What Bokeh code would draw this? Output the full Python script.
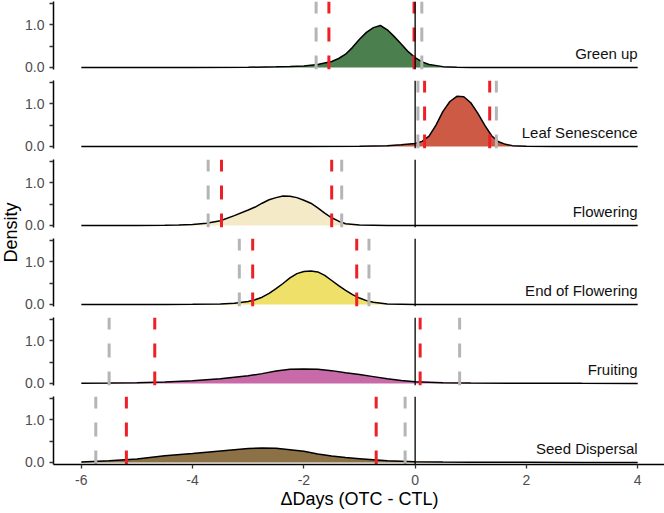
import math
from bokeh.plotting import figure
from bokeh.models import Range1d, FixedTicker, PrintfTickFormatter, Label
from bokeh.layouts import column, row
from bokeh.embed import file_html
from bokeh.resources import INLINE
from bokeh.core.properties import value

# ---------------- data ----------------
panel_names = ["Green up", "Leaf Senescence", "Flowering", "End of Flowering", "Fruiting", "Seed Dispersal"]
panel_colors = ["#4b7f4e", "#cd5a45", "#f4eac8", "#efe06a", "#c86aa8", "#8c7046"]

green_x = [-6, -4, -3, -2.5, -2.25, -2, -1.75, -1.5, -1.375, -1.25, -1.125, -1, -0.875, -0.75, -0.625,
           -0.5, -0.375, -0.25, -0.125, 0, 0.125, 0.25, 0.5, 0.75, 1, 1.5, 2, 4]
green_y = [0.0, 0.002, 0.006, 0.015, 0.022, 0.035, 0.07, 0.14, 0.21, 0.31, 0.47, 0.66, 0.82, 0.93, 0.98,
           0.88, 0.72, 0.55, 0.37, 0.23, 0.13, 0.07, 0.02, 0.006, 0.002, 0.0, 0.0, 0.0]

leaf_x = [-6, -2, -1, -0.5, -0.25, 0, 0.125, 0.25, 0.375, 0.5, 0.625, 0.75, 0.875, 1.0, 1.125, 1.25,
          1.375, 1.5, 1.625, 1.75, 2, 2.5, 4]
leaf_y = [0.0, 0.001, 0.006, 0.02, 0.04, 0.07, 0.12, 0.24, 0.5, 0.82, 1.05, 1.17, 1.16, 1.02, 0.78, 0.5,
          0.25, 0.11, 0.05, 0.02, 0.006, 0.001, 0.0]

flower_x = [-6, -5, -4.5, -4.25, -4, -3.75, -3.5, -3.25, -3, -2.875, -2.75, -2.625, -2.5, -2.375, -2.25,
            -2.125, -2, -1.875, -1.75, -1.625, -1.5, -1.375, -1.25, -1, -0.5, 0, 4]
flower_y = [0.0, 0.002, 0.006, 0.012, 0.025, 0.05, 0.11, 0.23, 0.36, 0.43, 0.52, 0.60, 0.65, 0.69, 0.68,
            0.65, 0.59, 0.52, 0.41, 0.29, 0.18, 0.10, 0.04, 0.012, 0.002, 0.0, 0.0]

endfl_x = [-6, -4.5, -4, -3.5, -3.25, -3, -2.875, -2.75, -2.625, -2.5, -2.375, -2.25, -2.125, -2, -1.875,
           -1.75, -1.625, -1.5, -1.375, -1.25, -1.125, -1, -0.875, -0.75, -0.5, 0, 4]
endfl_y = [0.0, 0.002, 0.004, 0.012, 0.03, 0.07, 0.11, 0.17, 0.26, 0.37, 0.49, 0.62, 0.72, 0.77, 0.78,
           0.76, 0.68, 0.56, 0.44, 0.33, 0.23, 0.15, 0.09, 0.05, 0.012, 0.002, 0.0]

fruit_x = [-6, -5.5, -5, -4.5, -4, -3.5, -3, -2.75, -2.5, -2.25, -2, -1.75, -1.5, -1.25, -1, -0.75, -0.5,
           -0.25, 0, 0.5, 1, 2, 3, 4]
fruit_y = [0.004, 0.01, 0.02, 0.035, 0.065, 0.11, 0.18, 0.23, 0.29, 0.33, 0.34, 0.33, 0.30, 0.25, 0.21,
           0.16, 0.11, 0.07, 0.04, 0.02, 0.012, 0.006, 0.003, 0.001]

seed_x = [-6, -5.5, -5, -4.5, -4, -3.5, -3, -2.75, -2.5, -2.25, -2, -1.75, -1.5, -1.25, -1, -0.5, 0, 0.5,
          1, 2, 3, 4]
seed_y = [0.012, 0.04, 0.08, 0.155, 0.21, 0.27, 0.325, 0.34, 0.33, 0.30, 0.26, 0.20, 0.15, 0.115, 0.09,
          0.04, 0.02, 0.012, 0.008, 0.004, 0.002, 0.001]

gray_lines = [[-1.78, 0.12], [0.05, 1.46], [-3.72, -1.32], [-3.16, -0.83], [-5.50, 0.80], [-5.74, -0.18]]
red_lines = [[-1.55, -0.02], [0.17, 1.34], [-3.48, -1.50], [-2.92, -1.05], [-4.68, 0.09], [-5.19, -0.70]]
zero_line = [0]

x_ticks = [-6, -4, -2, 0, 2, 4]
y_ticks = [0, 1]
y_minor_ticks = [0.5, 1.5]
label_x = 4
label_y = 0.33
x_title = "\u0394Days (OTC - CTL)"
y_title = "Density"

curves = [(green_x, green_y), (leaf_x, leaf_y), (flower_x, flower_y),
          (endfl_x, endfl_y), (fruit_x, fruit_y), (seed_x, seed_y)]

# ---------------- layout / style ----------------
FONT = "Liberation Sans"
X0, X1 = -6.5, 4.5
Y0, Y1 = -0.047, 1.54
FW, FH, GAP = 612, 68, 11
TOP = 1
LABEL_W = 22
LEFT = 30

figs = []
for i in range(6):
    last = (i == 5)
    p = figure(frame_width=FW, frame_height=FH,
               x_range=Range1d(X0, X1), y_range=Range1d(Y0, Y1),
               output_backend="svg", toolbar_location=None,
               x_axis_location="below" if last else None,
               min_border_left=LEFT, min_border_right=0,
               min_border_top=TOP if i == 0 else 0,
               min_border_bottom=0 if last else GAP)
    p.outline_line_color = None
    p.grid.visible = False
    p.background_fill_color = "white"
    p.border_fill_color = "white"

    xs, ys = curves[i]
    p.varea(x=xs, y1=0, y2=ys, fill_color=panel_colors[i], fill_alpha=1.0)
    p.line(xs, ys, line_color="black", line_width=1.5)

    g = gray_lines[i]
    r = red_lines[i]
    p.segment(x0=g, y0=[Y0] * len(g), x1=g, y1=[Y1] * len(g),
              line_color="#b5b5b5", line_width=3, line_dash="14 14")
    p.segment(x0=r, y0=[Y0] * len(r), x1=r, y1=[Y1] * len(r),
              line_color="#ee2027", line_width=3, line_dash="14 14")
    p.segment(x0=zero_line, y0=[Y0], x1=zero_line, y1=[Y1],
              line_color="black", line_width=1.3)

    p.text(x=[label_x], y=[label_y], text=[panel_names[i]],
           text_align="right", text_baseline="alphabetic",
           text_font=value(FONT), text_font_size="15px", text_color="#111111")

    ya = p.yaxis[0]
    ya.ticker = FixedTicker(ticks=y_ticks, minor_ticks=y_minor_ticks)
    ya.formatter = PrintfTickFormatter(format="%.1f")
    ya.major_label_text_font = FONT
    ya.major_label_text_font_size = "14px"
    ya.major_label_text_color = "#4d4d4d"
    ya.major_label_standoff = 5
    ya.axis_line_color = "black"
    ya.axis_line_width = 1.5
    ya.major_tick_line_color = "#333333"
    ya.major_tick_line_width = 1.3
    ya.major_tick_out = 4
    ya.major_tick_in = 0
    ya.minor_tick_line_color = "#333333"
    ya.minor_tick_line_width = 1.3
    ya.minor_tick_out = 4
    ya.minor_tick_in = 0

    if last:
        xa = p.xaxis[0]
        xa.ticker = FixedTicker(ticks=x_ticks)
        xa.formatter = PrintfTickFormatter(format="%d")
        xa.major_label_text_font = FONT
        xa.major_label_text_font_size = "14px"
        xa.major_label_text_color = "#4d4d4d"
        xa.major_label_standoff = 6
        xa.axis_line_color = "black"
        xa.axis_line_width = 1.5
        xa.major_tick_line_color = "#333333"
        xa.major_tick_line_width = 1.3
        xa.major_tick_out = 4
        xa.major_tick_in = 0
        xa.minor_tick_line_color = None
        xa.axis_label = x_title
        xa.axis_label_text_font = FONT
        xa.axis_label_text_font_size = "18px"
        xa.axis_label_text_font_style = "normal"
        xa.axis_label_text_color = "black"
        xa.axis_label_standoff = 1
    figs.append(p)

label_fig = figure(width=LABEL_W, height=TOP + 5 * (FH + GAP) + FH,
                   x_range=Range1d(0, LABEL_W), y_range=Range1d(0, 1),
                   output_backend="svg", toolbar_location=None,
                   x_axis_location=None, y_axis_location=None, min_border=0)
label_fig.outline_line_color = None
label_fig.grid.visible = False
label_fig.add_layout(Label(x=10, y=0.5, text=y_title, angle=math.pi / 2,
                           text_align="center", text_baseline="middle",
                           text_font=FONT, text_font_size="18px", text_color="black"))

layout = row(label_fig, column(*figs, spacing=0), spacing=0)

open("out.html", "w").write(file_html(layout, INLINE))
